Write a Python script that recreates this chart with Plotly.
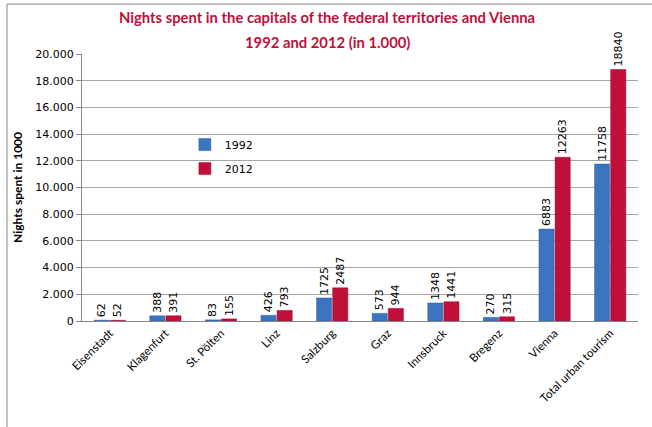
import plotly.graph_objects as go

categories = ["Eisenstadt", "Klagenfurt", "St. Pölten", "Linz", "Salzburg", "Graz",
              "Innsbruck", "Bregenz", "Vienna", "Total urban tourism"]
values_1992 = [62, 388, 83, 426, 1725, 573, 1348, 270, 6883, 11758]
values_2012 = [52, 391, 155, 793, 2487, 944, 1441, 315, 12263, 18840]
y_ticks = [0, 2000, 4000, 6000, 8000, 10000, 12000, 14000, 16000, 18000, 20000]
title_lines = ["Nights spent in the capitals of the federal territories and Vienna",
               "1992 and 2012 (in 1.000)"]

label_font = dict(family="DejaVu Sans", size=11, color="#000000")

fig = go.Figure()
fig.add_trace(go.Bar(
    name="1992", x=categories, y=values_1992, legendgroup="a",
    marker=dict(color="#3D74C0", line=dict(color="#2F5E9E", width=0.5)),
    text=[str(v) for v in values_1992], textposition="outside", textangle=-90,
    constraintext="none", textfont=label_font, outsidetextfont=label_font, cliponaxis=False,
))
fig.add_trace(go.Bar(
    name="2012", x=categories, y=values_2012, legendgroup="b",
    marker=dict(color="#C0103A", line=dict(color="#9A0C2E", width=0.5)),
    text=[str(v) for v in values_2012], textposition="outside", textangle=-90,
    constraintext="none", textfont=label_font, outsidetextfont=label_font, cliponaxis=False,
))

title_font = dict(family="Lato", size=14.8, color="#C0103A")
fig.update_layout(
    width=652, height=427,
    margin=dict(l=82, r=14, t=54, b=106, autoexpand=False),
    paper_bgcolor="white", plot_bgcolor="white",
    separators=",.",
    barmode="group", bargap=0.42, bargroupgap=0.06,
    uniformtext=dict(mode="show", minsize=11),
    annotations=[
        dict(text="<b>" + title_lines[0] + "</b>", xref="paper", yref="paper",
             x=0.441, y=(321 - 17) / 267, xanchor="center", yanchor="middle",
             showarrow=False, font=title_font),
        dict(text="<b>" + title_lines[1] + "</b>", xref="paper", yref="paper",
             x=0.441, y=(321 - 42) / 267, xanchor="center", yanchor="middle",
             showarrow=False, font=title_font),
    ],
    showlegend=True,
    legend=dict(x=0.185, y=0.715, xanchor="left", yanchor="top",
                bgcolor="rgba(0,0,0,0)", font=dict(family="DejaVu Sans", size=11, color="#000"),
                itemwidth=30, tracegroupgap=5),
    font=dict(family="DejaVu Sans", size=11, color="#000"),
    shapes=[dict(type="rect", xref="paper", yref="paper",
                 x0=-0.1349, x1=1.05, y0=-0.45, y1=1.187,
                 line=dict(color="#888888", width=1), fillcolor="rgba(0,0,0,0)", layer="below")],
)
fig.update_yaxes(
    range=[0, 20000], tickvals=y_ticks, tickformat=",d", automargin=False,
    showgrid=True, gridcolor="#A6A6A6", gridwidth=1,
    showline=True, linecolor="#868686", ticks="outside", ticklen=5, tickcolor="#868686",
    tickfont=dict(family="DejaVu Sans", size=11, color="#000"),
    title=dict(text="<b>Nights spent in 1000</b>", font=dict(family="Lato", size=12, color="#000"), standoff=10),
    zeroline=False,
)
fig.update_xaxes(
    tickangle=-45, showline=True, linecolor="#868686", ticks="", automargin=False,
    tickfont=dict(family="Lato", size=11.5, color="#000"),
)

fig.write_html("out.html", config={"displayModeBar": False})
with open("out.html", "r", encoding="utf-8") as f:
    html = f.read()
html = html.replace("<body>", '<body style="margin:0;padding:0">', 1)
with open("out.html", "w", encoding="utf-8") as f:
    f.write(html)
